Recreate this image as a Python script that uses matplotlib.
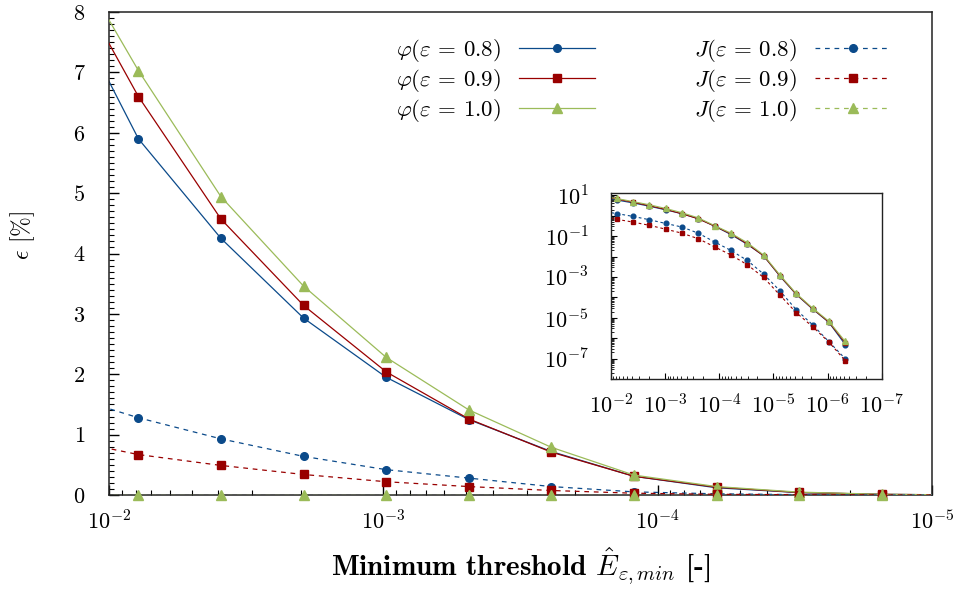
import numpy as np
import matplotlib
matplotlib.use('Agg')
import matplotlib.pyplot as plt
from matplotlib.lines import Line2D
from matplotlib.ticker import LogLocator, FixedLocator, FuncFormatter, MultipleLocator, NullFormatter

plt.rcParams['font.family'] = 'serif'
plt.rcParams['font.serif'] = ['cmr10']
plt.rcParams['mathtext.fontset'] = 'cm'
plt.rcParams['axes.formatter.use_mathtext'] = True

# minimum thresholds E_min = 2^-6 ... 2^-21
thresholds = [2**-6, 2**-7, 2**-8, 2**-9, 2**-10, 2**-11, 2**-12, 2**-13,
              2**-14, 2**-15, 2**-16, 2**-17, 2**-18, 2**-19, 2**-20, 2**-21]

# error in percent
phi_08 = [8.57, 5.90, 4.25, 2.93, 1.95, 1.25, 0.72, 0.31, 0.12, 0.040, 0.011,
          1.1e-3, 1.4e-4, 2.7e-5, 6.0e-6, 4.9e-7]
phi_09 = [9.07, 6.60, 4.57, 3.14, 2.04, 1.26, 0.71, 0.31, 0.13, 0.042, 0.011,
          1.15e-3, 1.45e-4, 2.8e-5, 6.2e-6, 6.0e-7]
phi_10 = [9.38, 7.03, 4.94, 3.46, 2.28, 1.41, 0.79, 0.33, 0.14, 0.048, 0.012,
          1.25e-3, 1.55e-4, 3.0e-5, 6.8e-6, 7.0e-7]
J_08 = [1.70, 1.28, 0.93, 0.64, 0.42, 0.28, 0.14, 0.052, 0.020, 6.5e-3, 1.4e-3,
        2.1e-4, 2.5e-5, 4.6e-6, 6.8e-7, 1.0e-7]
J_09 = [0.95, 0.67, 0.49, 0.34, 0.22, 0.14, 0.075, 0.030, 0.012, 4.0e-3, 9.5e-4,
        1.3e-4, 1.8e-5, 3.7e-6, 6.5e-7, 8.0e-8]
J_10 = [0.0] * 16

labels = [r'$\varphi(\varepsilon\,=\,0.8)$', r'$\varphi(\varepsilon\,=\,0.9)$', r'$\varphi(\varepsilon\,=\,1.0)$',
          r'$J(\varepsilon\,=\,0.8)$', r'$J(\varepsilon\,=\,0.9)$', r'$J(\varepsilon\,=\,1.0)$']

blue = '#0b4a8a'
red = '#990000'
green = '#9bbb59'

series = [
    (phi_08, blue, '-', 'o', 5.5),
    (phi_09, red, '-', 's', 5.5),
    (phi_10, green, '-', '^', 6.5),
    (J_08, blue, (0, (3.8, 3.8)), 'o', 5.5),
    (J_09, red, (0, (3.8, 3.8)), 's', 5.5),
    (J_10, green, (0, (3.8, 3.8)), '^', 6.5),
]

x = np.array(thresholds)

fig = plt.figure(figsize=(9.56, 5.91), dpi=100)
ax = fig.add_axes([0.114, 0.1624, 0.861, 0.8173])
ax.set_xscale('log')
ax.set_xlim(1e-2, 1e-5)
ax.set_ylim(0, 8)

in_range = (x <= 1e-2) & (x >= 1e-5)
handles = []
for i, (vals, col, ls, mk, ms) in enumerate(series):
    y = np.array(vals)
    ax.plot(x, y, color=col, lw=0.9, ls=ls, zorder=2 + i)
    ax.plot(x[in_range], y[in_range], ls='none', marker=mk, ms=ms, color=col,
            clip_on=False, zorder=2 + i)
    handles.append(Line2D([], [], color=col, lw=0.9, ls=ls, marker=mk, ms=ms))

ax.yaxis.set_major_locator(MultipleLocator(1))
ax.yaxis.set_minor_locator(MultipleLocator(0.1))
ax.xaxis.set_major_locator(LogLocator(base=10, numticks=10))
ax.xaxis.set_minor_locator(LogLocator(base=10, subs=np.arange(2, 10), numticks=50))
ax.xaxis.set_minor_formatter(NullFormatter())
ax.tick_params(which='both', direction='in', top=False, right=False, labelsize=16)
ax.tick_params(which='major', length=7, width=1)
ax.tick_params(which='minor', length=3.5, width=0.8)
ax.tick_params(axis='x', pad=10)
ax.tick_params(axis='y', pad=17)
for s in ax.spines.values():
    s.set_linewidth(1.1)
    s.set_color('#222222')

ax.set_xlabel(r'Minimum threshold $\hat{E}_{\varepsilon,min}$ [-]', fontfamily='cmb10',
              fontsize=21, labelpad=9)
ax.set_ylabel(r'$\epsilon$ [%]', fontsize=17)
ax.yaxis.set_label_coords(-0.087, 0.538)

ax.legend(handles, labels, ncol=2, markerfirst=False, frameon=False, loc='upper right',
          bbox_to_anchor=(0.975, 0.99), fontsize=16.5, handlelength=3.3, columnspacing=4.35,
          labelspacing=0.115, numpoints=1, handletextpad=0.8)

# inset on log-log axes
ax_in = fig.add_axes([0.639, 0.3587, 0.2835, 0.3147])
ax_in.set_xscale('log')
ax_in.set_yscale('log')
for vals, col, ls, mk, ms in series[:5]:
    ax_in.plot(x, vals, color=col, lw=0.8, ls=(0, (2.5, 2.5)) if ls != '-' else '-',
               marker=mk, ms=ms * 0.62)
ax_in.set_xlim(1e-2, 1e-7)
ax_in.set_ylim(1e-8, 13)

ax_in.yaxis.set_major_locator(FixedLocator([10.0**k for k in range(-8, 2)]))
ax_in.yaxis.set_major_formatter(FuncFormatter(
    lambda v, p: r'$10^{%d}$' % round(np.log10(v)) if round(np.log10(v)) % 2 else ''))
ax_in.yaxis.set_minor_locator(LogLocator(base=10, subs=np.arange(2, 10), numticks=100))
ax_in.yaxis.set_minor_formatter(NullFormatter())
ax_in.xaxis.set_major_locator(LogLocator(base=10, numticks=20))
ax_in.xaxis.set_minor_locator(LogLocator(base=10, subs=np.arange(2, 10), numticks=100))
ax_in.xaxis.set_minor_formatter(NullFormatter())
ax_in.tick_params(which='both', direction='in', top=False, right=False, labelsize=16)
ax_in.tick_params(which='major', length=4, width=0.8)
ax_in.tick_params(which='minor', length=2, width=0.6)
ax_in.tick_params(axis='x', pad=10)
ax_in.tick_params(axis='y', pad=16)
for s in ax_in.spines.values():
    s.set_linewidth(1.0)
    s.set_color('#222222')

fig.savefig('out.png', dpi=100)
